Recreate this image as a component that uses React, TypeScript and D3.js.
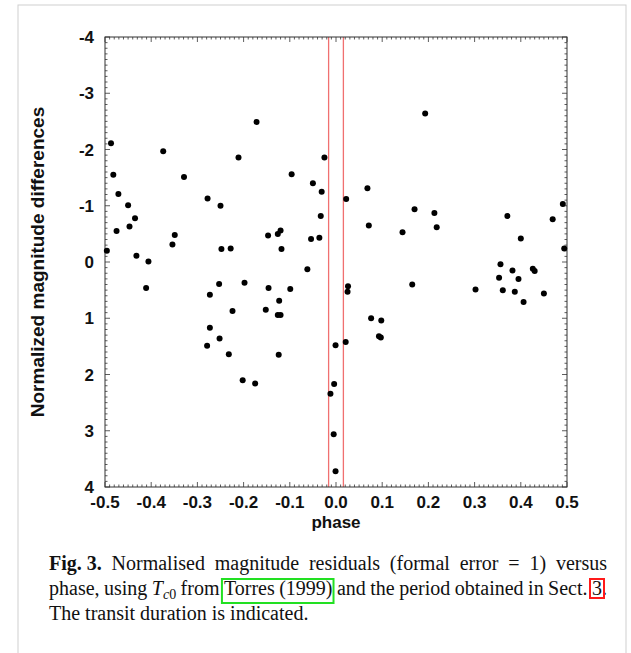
import React from "react";
import * as d3 from "d3";

const WIDTH = 631;
const HEIGHT = 653;

// phase / normalized residual pairs
const phase = [
  -0.487, -0.482, -0.471, -0.45, -0.435, -0.374, -0.329, -0.278, -0.25, -0.211,
  -0.172, -0.025, -0.096, -0.05, -0.031, 0.068, 0.022, -0.033, 0.17, 0.213,
  0.193, 0.371, 0.469, 0.491, -0.475, -0.447, -0.496, -0.432, -0.406, -0.349,
  -0.354, -0.248, -0.228, -0.411, -0.253, -0.198, -0.273, -0.224, -0.273, -0.252,
  -0.279, -0.232, -0.202, -0.175, 0.071, 0.144, 0.218, -0.147, -0.126, -0.12,
  -0.054, -0.036, -0.118, -0.062, -0.146, -0.099, 0.026, 0.025, 0.165, -0.123,
  -0.152, -0.126, -0.12, 0.076, 0.098, 0.093, 0.097, -0.001, 0.021, -0.124,
  -0.004, -0.012, -0.005, -0.001, 0.4, 0.494, 0.356, 0.382, 0.426, 0.43,
  0.353, 0.395, 0.302, 0.361, 0.387, 0.45, 0.406,
];
const residual = [
  -2.11, -1.55, -1.21, -1.01, -0.78, -1.97, -1.51, -1.13, -1.0, -1.86,
  -2.49, -1.86, -1.56, -1.4, -1.25, -1.31, -1.12, -0.82, -0.94, -0.87,
  -2.64, -0.82, -0.76, -1.03, -0.55, -0.63, -0.2, -0.11, -0.01, -0.48,
  -0.31, -0.23, -0.24, 0.46, 0.39, 0.37, 0.58, 0.87, 1.17, 1.36,
  1.49, 1.64, 2.1, 2.16, -0.65, -0.53, -0.62, -0.47, -0.5, -0.56,
  -0.41, -0.43, -0.23, 0.13, 0.46, 0.48, 0.43, 0.53, 0.4, 0.69,
  0.85, 0.94, 0.94, 1.0, 1.04, 1.32, 1.34, 1.48, 1.42, 1.65,
  2.17, 2.34, 3.06, 3.72, -0.42, -0.24, 0.04, 0.15, 0.12, 0.16,
  0.28, 0.3, 0.49, 0.5, 0.53, 0.56, 0.71,
];

// transit duration edges
const transit = [-0.016, 0.016];

const xTickLabels = ["-0.5", "-0.4", "-0.3", "-0.2", "-0.1", "0.0", "0.1", "0.2", "0.3", "0.4", "0.5"];
const yTickLabels = ["-4", "-3", "-2", "-1", "0", "1", "2", "3", "4"];

const captionLine1 = ["Normalised", "magnitude", "residuals", "(formal", "error", "=", "1)", "versus"];
const captionLine2 = ["phase,", "using", "$Tc0", "from", "Torres", "(1999)", "and", "the", "period", "obtained", "in", "Sect.", "3."];
const captionLine3 = "The transit duration is indicated.";

const SANS = "'Liberation Sans', Arial, Helvetica, sans-serif";
const SERIF = "'Liberation Serif', 'Times New Roman', serif";

let ctx: CanvasRenderingContext2D | null = null;
function measure(text: string, font: string) {
  if (!ctx) ctx = document.createElement("canvas").getContext("2d");
  ctx!.font = font;
  return ctx!.measureText(text).width;
}

const CAP = 20;
const SUB = 14;
const F = `${CAP}px ${SERIF}`;
const FB = `bold ${CAP}px ${SERIF}`;
const FI = `italic ${CAP}px ${SERIF}`;
const FSI = `italic ${SUB}px ${SERIF}`;
const FS = `${SUB}px ${SERIF}`;

function wordWidth(w: string) {
  if (w === "$Tc0") return measure("T", FI) + measure("c", FSI) + measure("0", FS);
  return measure(w, F);
}

// spread words between left and right edges
function justify(words: string[], left: number, right: number, lead = 0) {
  const widths = words.map(wordWidth);
  const total = d3.sum(widths);
  const gap = (right - left - lead - total) / (words.length - 1 + (lead ? 1 : 0));
  let x = left + (lead ? lead + gap : 0);
  return words.map((w, i) => {
    const pos = { w, x, width: widths[i] };
    x += widths[i] + gap;
    return pos;
  });
}

export default function App() {
  const margin = { top: 37, right: 64, bottom: 166, left: 105 };
  const x = d3.scaleLinear().domain([-0.5, 0.5]).range([margin.left, WIDTH - margin.right]);
  const y = d3.scaleLinear().domain([-4, 4]).range([margin.top, HEIGHT - margin.bottom]);
  const [x0, x1] = x.range();
  const [y0, y1] = y.range();

  const xMajor = xTickLabels.map(Number);
  const yMajor = yTickLabels.map(Number);
  const xMinor = d3.range(-50, 51).filter((i) => i % 10 !== 0).map((i) => i / 100);
  const yMinor = d3.range(-40, 41).filter((i) => i % 10 !== 0).map((i) => i / 10);

  const capLeft = 49;
  const capRight = 607;
  const figLabel = "Fig. 3.";
  const figW = measure(figLabel, FB);
  const line1 = justify(captionLine1, capLeft, capRight, figW);
  const line2 = justify(captionLine2, capLeft, capRight);
  const b1 = 570;
  const b2 = 595;
  const b3 = 620;

  const torres = line2.find((d) => d.w === "Torres")!;
  const year = line2.find((d) => d.w === "(1999)")!;
  const sect = line2.find((d) => d.w === "3.")!;
  const threeW = measure("3", F);

  return (
    <svg
      width={WIDTH}
      height={HEIGHT}
      style={{ position: "absolute", left: 0, top: 0, background: "#fff" }}
    >
      <rect x={18} y={5} width={608} height={HEIGHT + 10} fill="none" stroke="#cfcfcf" />

      {/* transit window */}
      {transit.map((t) => (
        <line key={t} x1={x(t)} x2={x(t)} y1={y0} y2={y1} stroke="#f07070" strokeWidth={1.3} />
      ))}

      {/* ticks on all four sides, pointing inward */}
      <g stroke="#333" strokeWidth={0.8}>
        {xMinor.map((t) => (
          <g key={"xm" + t}>
            <line x1={x(t)} x2={x(t)} y1={y1} y2={y1 - 2.5} />
            <line x1={x(t)} x2={x(t)} y1={y0} y2={y0 + 2.5} />
          </g>
        ))}
        {xMajor.map((t) => (
          <g key={"xM" + t}>
            <line x1={x(t)} x2={x(t)} y1={y1} y2={y1 - 5} />
            <line x1={x(t)} x2={x(t)} y1={y0} y2={y0 + 5} />
          </g>
        ))}
        {yMinor.map((t) => (
          <g key={"ym" + t}>
            <line x1={x0} x2={x0 + 2.5} y1={y(t)} y2={y(t)} />
            <line x1={x1} x2={x1 - 2.5} y1={y(t)} y2={y(t)} />
          </g>
        ))}
        {yMajor.map((t) => (
          <g key={"yM" + t}>
            <line x1={x0} x2={x0 + 5} y1={y(t)} y2={y(t)} />
            <line x1={x1} x2={x1 - 5} y1={y(t)} y2={y(t)} />
          </g>
        ))}
      </g>
      <rect x={x0} y={y0} width={x1 - x0} height={y1 - y0} fill="none" stroke="#333" strokeWidth={1} />

      {/* data */}
      <g fill="#000">
        {phase.map((p, i) => (
          <circle key={i} cx={x(p)} cy={y(residual[i])} r={3} />
        ))}
      </g>

      {/* tick labels */}
      <g fontFamily={SANS} fontWeight="bold" fill="#111">
        {xTickLabels.map((s, i) => (
          <text key={s} x={x(xMajor[i])} y={y1 + 21} textAnchor="middle" fontSize={17}>
            {s}
          </text>
        ))}
        {yTickLabels.map((s, i) => (
          <text key={s} x={x0 - 11} y={y(yMajor[i])} dy="0.36em" textAnchor="end" fontSize={17}>
            {s}
          </text>
        ))}
        <text x={(x0 + x1) / 2} y={528} textAnchor="middle" fontSize={17}>
          phase
        </text>
        <text
          transform={`translate(44, ${(y0 + y1) / 2}) rotate(-90)`}
          textAnchor="middle"
          fontSize={19}
        >
          Normalized magnitude differences
        </text>
      </g>

      {/* caption */}
      <g fontFamily={SERIF} fontSize={CAP} fill="#111">
        <text x={capLeft} y={b1} fontWeight="bold">
          {figLabel}
        </text>
        {line1.map((d, i) => (
          <text key={"l1" + i} x={d.x} y={b1}>
            {d.w}
          </text>
        ))}
        {line2.map((d, i) =>
          d.w === "$Tc0" ? (
            <text key={"l2" + i} x={d.x} y={b2}>
              <tspan fontStyle="italic">T</tspan>
              <tspan fontStyle="italic" fontSize={SUB} dy={4}>
                c
              </tspan>
              <tspan fontSize={SUB}>0</tspan>
            </text>
          ) : (
            <text key={"l2" + i} x={d.x} y={b2}>
              {d.w}
            </text>
          )
        )}
        <text x={capLeft} y={b3}>
          {captionLine3}
        </text>
      </g>
      <rect
        x={torres.x - 2}
        y={b2 - 16}
        width={year.x + year.width - torres.x + 3}
        height={24}
        fill="none"
        stroke="#22e022"
        strokeWidth={2}
      />
      <rect
        x={sect.x - 2}
        y={b2 - 16}
        width={threeW + 4}
        height={19}
        fill="none"
        stroke="#ff1a1a"
        strokeWidth={2}
      />
    </svg>
  );
}
